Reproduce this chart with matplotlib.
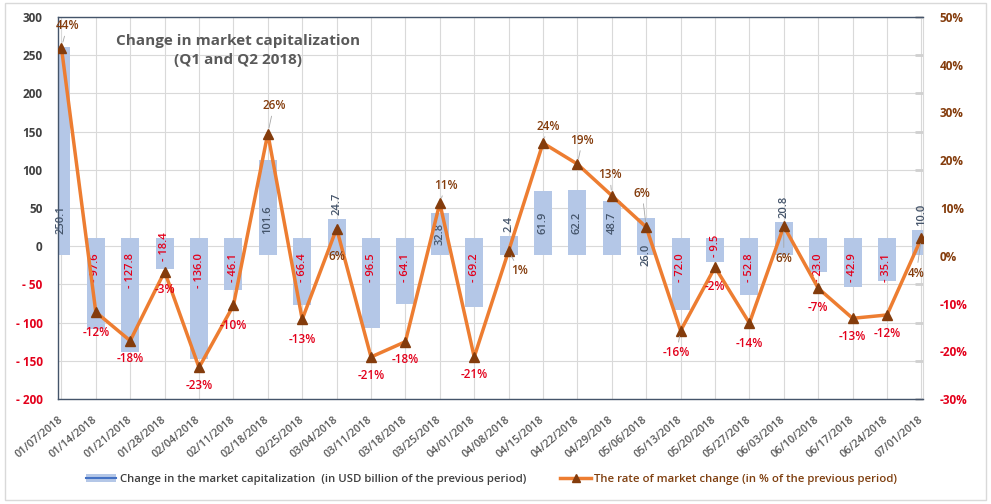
import numpy as np
import matplotlib
matplotlib.use("Agg")
import matplotlib.pyplot as plt
from matplotlib.patches import Patch, Rectangle
from matplotlib.lines import Line2D

plt.rcParams['font.family'] = ['Open Sans', 'DejaVu Sans']

# data
dates = ['01/07/2018', '01/14/2018', '01/21/2018', '01/28/2018', '02/04/2018', '02/11/2018',
         '02/18/2018', '02/25/2018', '03/04/2018', '03/11/2018', '03/18/2018', '03/25/2018',
         '04/01/2018', '04/08/2018', '04/15/2018', '04/22/2018', '04/29/2018', '05/06/2018',
         '05/13/2018', '05/20/2018', '05/27/2018', '06/03/2018', '06/10/2018', '06/17/2018',
         '06/24/2018', '07/01/2018']
cap_change = [250.1, -97.6, -127.8, -18.4, -136.0, -46.1, 101.6, -66.4, 24.7, -96.5, -64.1, 32.8,
              -69.2, 2.4, 61.9, 62.2, 48.7, 26.0, -72.0, -9.5, -52.8, 20.8, -23.0, -42.9, -35.1, 10.0]
rate_change = [43.6, -11.8, -17.8, -3.3, -23.4, -10.4, 25.6, -13.3, 5.7, -21.2, -18.0, 11.0,
               -21.2, 1.0, 23.6, 19.2, 12.6, 6.0, -15.7, -2.4, -14.1, 6.2, -6.8, -13.1, -12.4, 3.7]

# where Excel put each bar label
bar_label_pos = ['base', 'base', 'base', 'zero', 'base', 'base', 'base', 'base', 'top', 'base',
                 'base', 'mid', 'base', 'top', 'base', 'base', 'base', 'under', 'base', 'zero',
                 'base', 'top', 'base', 'base', 'base', 'top']
# offsets (pixels) of the % labels from their markers
pct_offsets = [(6, 22), (0, -20), (0, -18), (0, -18), (0, -18), (0, -20), (6, 28), (0, -20),
               (0, -28), (0, -19), (0, -18), (6, 18), (0, -18), (11, -20), (5, 17), (5, 24),
               (-2, 21), (-4, 34), (-4, -22), (0, -19), (0, -20), (0, -32), (0, -19), (0, -18),
               (0, -19), (-5, -35)]
leaders = [0, 6, 11, 13, 14, 15, 16, 17, 18, 21, 25]

BAR_COLOR = '#B4C7E7'
LINE_COLOR = '#ED7D31'
MARK_COLOR = '#843C0C'
RED = '#E3001B'
BROWN = '#843C0C'
DARK = '#44546A'
GRID = '#D9D9D9'
pad = 11  # excel bars are drawn with a thick border of the same colour

fig = plt.figure(figsize=(9.91, 5.04), dpi=100)
ax = fig.add_axes([0.0585, 0.2083, 0.873, 0.758])
ax2 = ax.twinx()

x = np.arange(len(dates))
vals = np.array(cap_change)
sgn = np.sign(vals)
ax.bar(x, vals + 2 * sgn * pad, bottom=-sgn * pad, width=0.52, color=BAR_COLOR, zorder=2)

ax.set_xlim(-0.1, len(dates) - 1 + 0.05)
ax.set_ylim(-200, 300)
ax.set_yticks(np.arange(-200, 301, 50))
ax.set_yticklabels([f'- {abs(t)}' if t < 0 else f'{t}' for t in np.arange(-200, 301, 50)])
for lab, t in zip(ax.get_yticklabels(), np.arange(-200, 301, 50)):
    lab.set_color(RED if t < 0 else '#404040')
    lab.set_fontweight('bold')
    lab.set_fontsize(8.5)
ax.tick_params(axis='y', left=False, right=True, direction='in', length=6, width=2,
               color='#D0D0D0', pad=11)
ax.set_xticks(x)
ax.set_xticklabels(dates, rotation=40, ha='right', va='center', rotation_mode='anchor',
                   fontsize=7.8, color='#595959', fontweight='semibold')
ax.tick_params(axis='x', length=0, pad=14)
ax.grid(True, color=GRID, lw=0.8, zorder=0)
ax.set_axisbelow(True)
for s in ['left', 'top', 'bottom']:
    ax.spines[s].set_color(DARK)
    ax.spines[s].set_linewidth(1)
ax.spines['right'].set_color(GRID)

# bar value labels
for i, v in enumerate(cap_change):
    txt = f'- {abs(v):.1f}' if v < 0 else f'{v:.1f}'
    col = RED if v < 0 else DARK
    mode = bar_label_pos[i]
    if mode == 'base':
        xy, off, va = (i, 0), (0, 12 if v > 0 else -7), ('bottom' if v > 0 else 'top')
    elif mode == 'top':
        xy, off, va = (i, v + pad), (0, 4), 'bottom'
    elif mode == 'zero':
        xy, off, va = (i, 0), (0, 0), 'center'
    elif mode == 'mid':
        xy, off, va = (i, v / 2), (0, 0), 'center'
    else:
        xy, off, va = (i, -pad), (0, 0), 'center'
    ax.annotate(txt, xy=xy, xytext=off, textcoords='offset pixels', rotation=90,
                ha='center', va=va, fontsize=8, color=col, fontweight='semibold', zorder=3)

# rate line
ax2.plot(x, rate_change, color=LINE_COLOR, lw=2.5, marker='^', markersize=7.5,
         markerfacecolor=MARK_COLOR, markeredgecolor=MARK_COLOR, zorder=4)
ax2.set_ylim(-30, 50)
pct_ticks = np.arange(-30, 51, 10)
ax2.set_yticks(pct_ticks)
ax2.set_yticklabels([f'{t}%' for t in pct_ticks])
for lab, t in zip(ax2.get_yticklabels(), pct_ticks):
    lab.set_color(RED if t < 0 else BROWN)
    lab.set_fontweight('bold')
    lab.set_fontsize(8.5)
ax2.tick_params(axis='y', length=0, pad=12)
for s in ax2.spines.values():
    s.set_visible(False)

for i, r in enumerate(rate_change):
    col = RED if r < 0 else BROWN
    arrow = dict(arrowstyle='-', color='#A6A6A6', lw=0.6, shrinkA=1, shrinkB=4) if i in leaders else None
    ax2.annotate(f'{round(r):d}%', xy=(i, r), xytext=pct_offsets[i], textcoords='offset pixels',
                 ha='center', va='center', fontsize=8.5, color=col, fontweight='semibold',
                 arrowprops=arrow, zorder=5)

fig.text(0.240, 0.900, 'Change in market capitalization\n(Q1 and Q2 2018)', ha='center',
         va='center', fontsize=11, fontweight='bold', color='#595959', linespacing=1.45)

h1 = (Patch(facecolor=BAR_COLOR, edgecolor='none'), Line2D([], [], color='#4472C4', lw=1.5))
h2 = Line2D([], [], color=LINE_COLOR, lw=2.5, marker='^', markersize=6,
            markerfacecolor=MARK_COLOR, markeredgecolor=MARK_COLOR)
leg = fig.legend([h1, h2], ['Change in the market capitalization  (in USD billion of the previous period)',
                            'The rate of market change (in % of the previous period)'],
                 loc='center', bbox_to_anchor=(0.496, 0.048), ncol=2, frameon=False,
                 fontsize=8.2, handlelength=2.7, columnspacing=3.0, handletextpad=0.3)
leg.get_texts()[0].set_color('#404040')
leg.get_texts()[1].set_color('#7F3F0F')
for t in leg.get_texts():
    t.set_fontweight('semibold')

fig.patches.append(Rectangle((0.005, 0.007), 0.99, 0.987, transform=fig.transFigure,
                             fill=False, ec='#D9D9D9', lw=1))

fig.savefig('out.png', dpi=100)
